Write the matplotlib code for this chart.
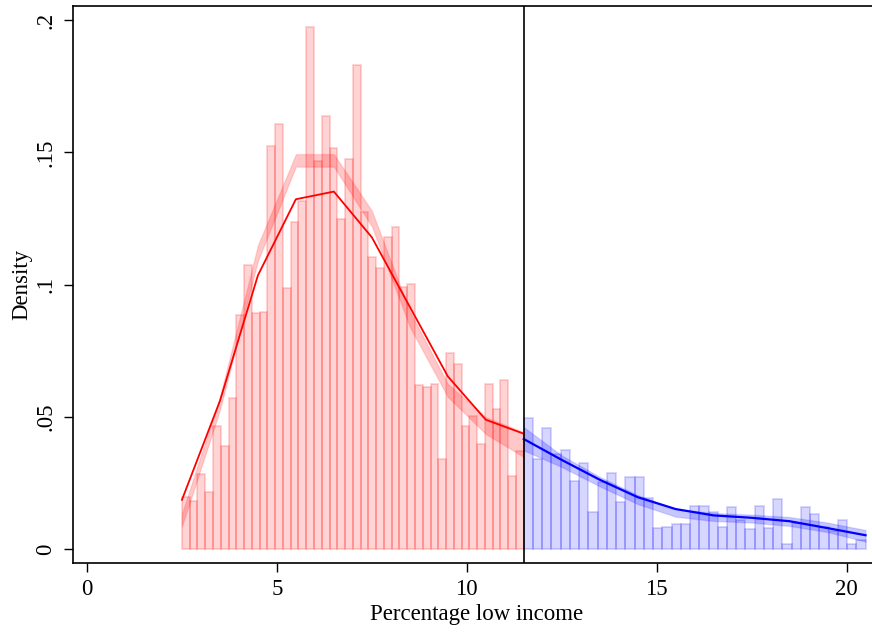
import numpy as np
import matplotlib
matplotlib.use("Agg")
import matplotlib.pyplot as plt

# ---------------- data ----------------
red_bin_start, red_bin_end, red_nbins = 2.5, 11.5, 44
blue_bin_start, blue_bin_end, blue_nbins = 11.5, 20.5, 37

red_density = [
    0.0197, 0.0180, 0.0282, 0.0214, 0.0465, 0.0389, 0.0572, 0.0884, 0.1074, 0.0891,
    0.0897, 0.1525, 0.1609, 0.0988, 0.1238, 0.1316, 0.1975, 0.1468, 0.1639, 0.1518,
    0.1249, 0.1475, 0.1829, 0.1274, 0.1103, 0.1064, 0.1181, 0.1219, 0.0992, 0.1001,
    0.0622, 0.0613, 0.0624, 0.0342, 0.0742, 0.0701, 0.0464, 0.0502, 0.0398, 0.0626,
    0.0531, 0.0638, 0.0277, 0.0369,
]
blue_density = [
    0.0497, 0.0340, 0.0458, 0.0358, 0.0376, 0.0258, 0.0326, 0.0141, 0.0252, 0.0289,
    0.0177, 0.0271, 0.0272, 0.0192, 0.0081, 0.0085, 0.0095, 0.0094, 0.0164, 0.0164,
    0.0141, 0.0084, 0.0160, 0.0108, 0.0074, 0.0162, 0.0080, 0.0190, 0.0018, 0.0099,
    0.0158, 0.0133, 0.0083, 0.0067, 0.0111, 0.0017, 0.0035,
]

red_fit_x = [2.5, 3.5, 4.5, 5.5, 6.5, 7.5, 8.5, 9.5, 10.5, 11.5]
red_fit_y = [0.0186, 0.0560, 0.1035, 0.1323, 0.1352, 0.1179, 0.0916, 0.0653, 0.0489, 0.0436]
red_band_mid = [0.0110, 0.0550, 0.1120, 0.1470, 0.1470, 0.1250, 0.0870, 0.0600, 0.0467, 0.0395]
red_band_hw = [0.0025, 0.0025, 0.0030, 0.0024, 0.0024, 0.0030, 0.0030, 0.0025, 0.0032, 0.0047]

blue_fit_x = [11.5, 12.5, 13.5, 14.5, 15.5, 16.5, 17.5, 18.5, 19.5, 20.5]
blue_fit_y = [0.0416, 0.0337, 0.0262, 0.0196, 0.0151, 0.0127, 0.0118, 0.0105, 0.0079, 0.0052]
blue_band_mid = [0.0417, 0.0332, 0.0255, 0.0187, 0.0137, 0.0121, 0.0115, 0.0104, 0.0082, 0.0050]
blue_band_hw = [0.0044, 0.0022, 0.0018, 0.0017, 0.0015, 0.0015, 0.0015, 0.0017, 0.0018, 0.0022]

cutoff = 11.5
x_ticks = [0, 5, 10, 15, 20]
y_ticks = [0, 0.05, 0.10, 0.15, 0.20]
y_ticklabels = ["0", ".05", ".1", ".15", ".2"]
x_label = "Percentage low income"
y_label = "Density"

# ---------------- plot ----------------
plt.rcParams["font.family"] = ["Liberation Serif", "DejaVu Serif"]

W, H, DPI = 872, 633, 100
fig = plt.figure(figsize=(W / DPI, H / DPI), dpi=DPI)
ax = fig.add_axes([72.5 / W, (H - 563) / H, 1 - 72.5 / W + 0.01, (563 - 6) / H])

red_edges = np.linspace(red_bin_start, red_bin_end, red_nbins + 1)
blue_edges = np.linspace(blue_bin_start, blue_bin_end, blue_nbins + 1)

ax.bar(red_edges[:-1], red_density, width=np.diff(red_edges), align="edge",
       facecolor=(1, 0, 0, 0.17), edgecolor=(1, 0, 0, 0.17), linewidth=1.4, zorder=1)
ax.bar(blue_edges[:-1], blue_density, width=np.diff(blue_edges), align="edge",
       facecolor=(0, 0, 1, 0.16), edgecolor=(0, 0, 1, 0.16), linewidth=1.4, zorder=1)

rm = np.array(red_band_mid); rh = np.array(red_band_hw)
bm = np.array(blue_band_mid); bh = np.array(blue_band_hw)
ax.fill_between(red_fit_x, rm - rh, rm + rh, facecolor=(1, 0, 0, 0.22),
                edgecolor=(1, 0, 0, 0.12), linewidth=1.0, zorder=2)
ax.fill_between(blue_fit_x, bm - bh, bm + bh, facecolor=(0, 0, 1, 0.22),
                edgecolor=(0, 0, 1, 0.12), linewidth=1.0, zorder=2)

ax.plot(red_fit_x, red_fit_y, color=(1, 0, 0), linewidth=1.3, zorder=3)
ax.plot(blue_fit_x, blue_fit_y, color=(0, 0, 1), linewidth=1.6, zorder=3)

ax.axvline(cutoff, color="black", linewidth=1.2, zorder=4)

ax.set_xlim(-0.382, 20.67 + 0.01 * W / 37.98)
ax.set_ylim(-0.0053, 0.2054)

ax.set_xticks(x_ticks)
ax.set_xticklabels([str(t) for t in x_ticks])
ax.set_yticks(y_ticks)
ax.set_yticklabels(y_ticklabels, rotation=90, va="center")

ax.tick_params(axis="both", direction="out", length=6.5, width=1.0, labelsize=16.5, pad=5)
for s in ["left", "bottom", "top"]:
    ax.spines[s].set_linewidth(1.2)
ax.spines["right"].set_visible(False)

ax.set_xlabel(x_label, fontsize=16.5, labelpad=3)
ax.set_ylabel(y_label, fontsize=16.5, labelpad=2)

fig.savefig("out.png", dpi=DPI)
